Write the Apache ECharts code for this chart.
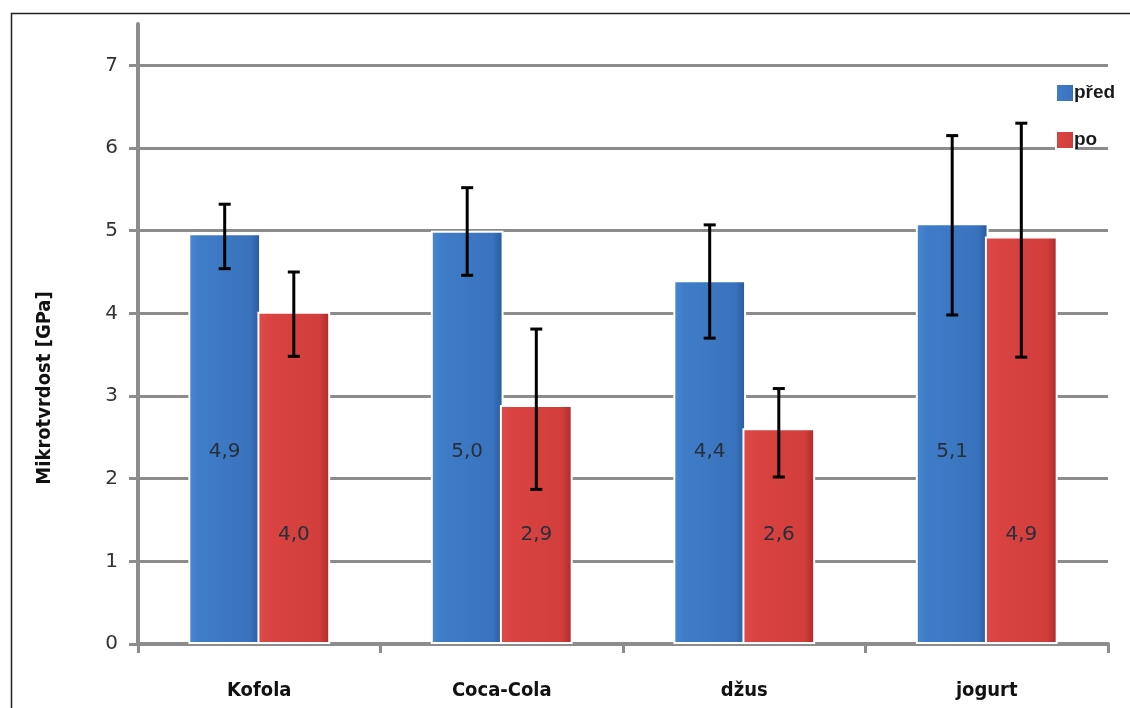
<!DOCTYPE html>
<html>
<head>
<meta charset="utf-8">
<script src="https://cdn.jsdelivr.net/npm/echarts@6/dist/echarts.min.js"></script>
<style>html,body{margin:0;padding:0;background:#fff;}#c{width:1130px;height:708px;}</style>
</head>
<body>
<div id="c"></div>
<script>
const categories = ['Kofola', 'Coca-Cola', 'd\u017eus', 'jogurt'];
const seriesNames = ['p\u0159ed', 'po'];
const valuesBefore = [4.97, 5.0, 4.40, 5.09];
const valuesAfter = [4.02, 2.89, 2.61, 4.93];
const labelsBefore = ['4,9', '5,0', '4,4', '5,1'];
const labelsAfter = ['4,0', '2,9', '2,6', '4,9'];
const errUpperBefore = [5.32, 5.52, 5.07, 6.15];
const errLowerBefore = [4.54, 4.46, 3.70, 3.98];
const errUpperAfter = [4.50, 3.81, 3.09, 6.30];
const errLowerAfter = [3.48, 1.87, 2.02, 3.47];
const yTicks = [0, 1, 2, 3, 4, 5, 6, 7];

const chart = echarts.init(document.getElementById('c'));

const BAR_W = 0.3, BAR_GAP = -0.05;
function errRender(sign) {
  return function (params, api) {
    const ci = api.value(0);
    const p1 = api.coord([ci, api.value(1)]);
    const p2 = api.coord([ci, api.value(2)]);
    const bw = api.size([1, 0])[0];
    const off = sign * bw * BAR_W * (1 + BAR_GAP) / 2;
    const x = p1[0] + off;
    const cap = 6;
    const st = { stroke: '#000', lineWidth: 3 };
    return {
      type: 'group',
      children: [
        { type: 'line', shape: { x1: x, y1: p1[1], x2: x, y2: p2[1] }, style: st },
        { type: 'line', shape: { x1: x - cap, y1: p1[1], x2: x + cap, y2: p1[1] }, style: st },
        { type: 'line', shape: { x1: x - cap, y1: p2[1], x2: x + cap, y2: p2[1] }, style: st }
      ]
    };
  };
}

const blueGrad = new echarts.graphic.LinearGradient(0, 0, 1, 0, [
  { offset: 0, color: '#4b88d2' }, { offset: 0.15, color: '#3f7cc8' },
  { offset: 0.85, color: '#3a73bd' }, { offset: 1, color: '#27579c' }
]);
const redGrad = new echarts.graphic.LinearGradient(0, 0, 1, 0, [
  { offset: 0, color: '#e04a48' }, { offset: 0.15, color: '#d94442' },
  { offset: 0.85, color: '#d23e3c' }, { offset: 1, color: '#a82a2a' }
]);

const labelFont = { fontFamily: 'DejaVu Sans', fontSize: 20, color: '#26303a' };

chart.setOption({
  animation: false,
  backgroundColor: '#fff',
  grid: { left: 138, right: 22, top: 24, bottom: 64, containLabel: false },
  legend: {
    orient: 'vertical',
    left: 1050, top: 78,
    icon: 'rect',
    itemWidth: 18, itemHeight: 18, itemGap: 27,
    data: seriesNames,
    textStyle: { fontFamily: 'Liberation Sans', fontWeight: 'bold', fontSize: 19, color: '#1a1a1a', padding: [0, 0, 0, -5] }
  },
  xAxis: {
    type: 'category',
    data: categories,
    axisLine: { lineStyle: { color: '#8c8c8c', width: 4 } },
    axisTick: { show: true, interval: 0, length: 9, lineStyle: { color: '#8c8c8c', width: 3 } },
    axisLabel: { margin: 37, fontFamily: 'DejaVu Sans Condensed', fontWeight: 'bold', fontSize: 20, color: '#111' }
  },
  yAxis: {
    type: 'value',
    min: 0, max: 7.5, interval: 1,
    axisLine: { show: true, lineStyle: { color: '#8c8c8c', width: 4 } },
    axisTick: { show: true, length: 9, lineStyle: { color: '#8c8c8c', width: 3 }, customValues: yTicks },
    axisLabel: { margin: 20, fontFamily: 'DejaVu Sans', fontSize: 20, color: '#333', customValues: yTicks,
      formatter: v => (Number.isInteger(v) ? String(v) : '') },
    splitLine: { show: true, lineStyle: { color: '#8c8c8c', width: 3 } }
  },
  graphic: [
    { type: 'rect', left: 9, top: 11, shape: { width: 1140, height: 720 }, style: { fill: 'none', stroke: '#222', lineWidth: 1.5 }, silent: true },
    { type: 'text', x: 45, y: 388, rotation: Math.PI / 2,
      style: { text: 'Mikrotvrdost [GPa]', font: 'bold 20px "DejaVu Sans Condensed"', fill: '#111', align: 'center', verticalAlign: 'middle' } }
  ],
  series: [
    {
      name: seriesNames[0], type: 'bar', data: valuesBefore,
      barWidth: (BAR_W * 100) + '%', barGap: (BAR_GAP * 100) + '%',
      itemStyle: { color: blueGrad, borderColor: '#fff', borderWidth: 2 },
      label: { show: true, position: 'insideBottom', distance: 182, formatter: p => labelsBefore[p.dataIndex], ...labelFont },
      z: 2
    },
    {
      name: seriesNames[1], type: 'bar', data: valuesAfter,
      barWidth: (BAR_W * 100) + '%', barGap: (BAR_GAP * 100) + '%',
      itemStyle: { color: redGrad, borderColor: '#fff', borderWidth: 2 },
      label: { show: true, position: 'insideBottom', distance: 99, formatter: p => labelsAfter[p.dataIndex], ...labelFont },
      z: 2
    },
    {
      type: 'custom', name: 'errBefore', renderItem: errRender(-1), z: 5,
      data: categories.map((c, i) => [i, errUpperBefore[i], errLowerBefore[i]])
    },
    {
      type: 'custom', name: 'errAfter', renderItem: errRender(1), z: 5,
      data: categories.map((c, i) => [i, errUpperAfter[i], errLowerAfter[i]])
    }
  ]
});
</script>
</body>
</html>
